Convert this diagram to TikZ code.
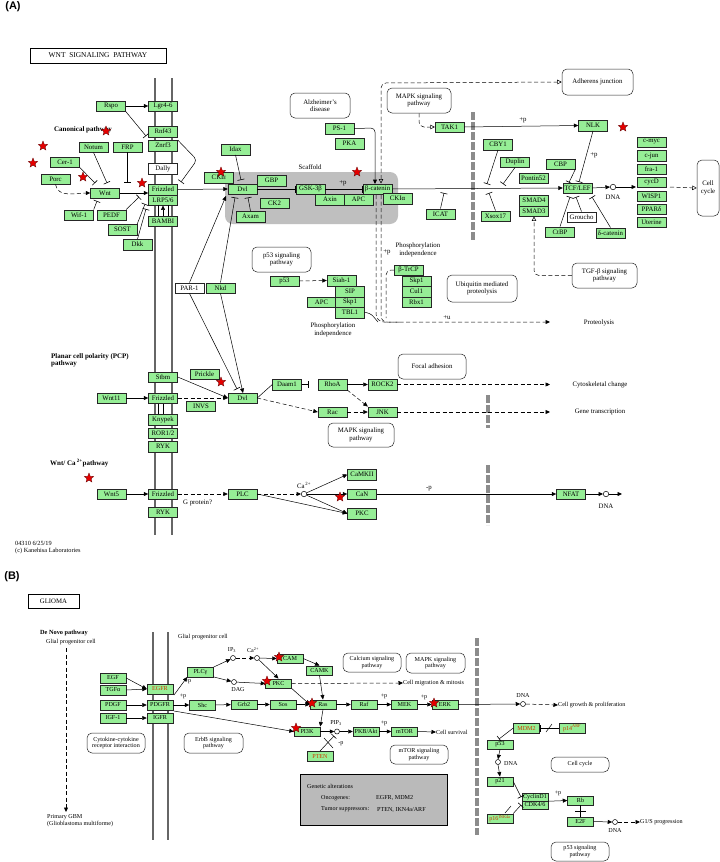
\documentclass[tikz,border=0pt]{standalone}
\usepackage{fontspec}
\setmainfont{Liberation Serif}
\newfontfamily\labsans{Liberation Sans}
\usetikzlibrary{arrows.meta,shapes.geometric}
\definecolor{kgreen}{RGB}{150,238,150}
\definecolor{kor}{RGB}{205,60,0}
\newcommand{\kf}{\fontsize{6.8}{7.5}\selectfont}
\newcommand{\kfs}{\fontsize{6.1}{6.8}\selectfont}
\newcommand{\kfb}{\fontsize{7}{7.8}\selectfont\bfseries}
\tikzset{
  gb/.style={draw=black!85, fill=kgreen, line width=0.45pt, minimum width=29pt, minimum height=10.5pt, inner sep=0pt, font=\kf},
  wb/.style={gb, fill=white},
  sb/.style={gb, minimum width=26pt, minimum height=9.5pt, font=\kfs},
  pw/.style={draw=black!85, fill=white, rounded corners=5pt, line width=0.5pt, align=center, font=\kf, inner sep=0pt},
  pws/.style={pw, font=\kfs},
  lab/.style={font=\kf, inner sep=0pt, align=center},
  labs/.style={font=\kfs, inner sep=0pt, align=center},
  blab/.style={font=\kfb, inner sep=0pt, align=left},
  con/.style={line width=0.5pt, draw=black},
  arr/.style={con, -{Triangle[length=4.5pt,width=4pt]}},
  inh/.style={con, -{Bar[width=7pt,line width=0.6pt]}},
  dsh/.style={dash pattern=on 4pt off 2.5pt},
  oarr/.style={con, -{Triangle[open,length=4.5pt,width=4.5pt]}},
  memb/.style={line width=2.3pt, draw=black!60},
  gbar/.style={line width=3.2pt, draw=black!45, dash pattern=on 8pt off 2pt},
  dnac/.style={circle, draw=black, fill=white, line width=0.5pt, minimum size=5.5pt, inner sep=0pt},
  kstar/.style={star, star points=5, star point ratio=2.3, fill=red!90!black, draw=red!40!black, line width=0.3pt, minimum size=10pt, inner sep=0pt},
}
\begin{document}
\begin{tikzpicture}[x=1pt,y=-1pt]
\fill[white] (0,0) rectangle (720,862);
\useasboundingbox (0,0) rectangle (720,862);

%================ (A) =================
\node[font=\labsans\bfseries\fontsize{11}{12}\selectfont, inner sep=0pt] (lA) at (13,7) {(A)};
\node[draw, line width=0.8pt, minimum width=136pt, minimum height=15pt, inner sep=0pt, font=\fontsize{7.4}{8}\selectfont] (ttl) at (98,55.5) {WNT\ \ SIGNALING\ \ PATHWAY};

\fill[black!25, rounded corners=8pt] (225,172) rectangle (398,224);
\node[lab] (scaf) at (310,167.5) {Scaffold};

\draw[memb] (155,78) -- (155,535);
\draw[memb] (172,78) -- (172,535);
\draw[gbar] (473,112) -- (473,240);
\draw[gbar] (488,395) -- (488,428);
\draw[gbar] (488,465) -- (488,525);

% labels
\node[blab] (canon) at (83,130) {Canonical pathway};
\node[blab, anchor=north west] (pcpl) at (51,353) {Planar cell polarity (PCP)\\pathway};
\node[blab, anchor=west] (cal) at (50,463) {Wnt/ Ca\,\textsuperscript{2+}pathway};
\node[font=\fontsize{6.3}{7.2}\selectfont, inner sep=0pt, anchor=north west, align=left] (foot) at (15,541) {04310 6/25/19\\(c) Kanehisa Laboratories};

% canonical nodes
\node[gb] (rspo) at (111,106) {Rspo};
\node[gb] (lgr) at (163,106) {Lgr4-6};
\node[gb] (rnf) at (163,131.5) {Rnf43};
\node[gb] (znrf) at (163,145.5) {Znrf3};
\node[gb] (notum) at (93.5,147) {Notum};
\node[gb] (frp) at (127.5,147) {FRP};
\node[gb] (cer) at (65,162) {Cer-1};
\node[wb] (dally) at (163,168.5) {Dally};
\node[gb] (porc) at (55.5,179) {Porc};
\node[gb] (wnt) at (105,193) {Wnt};
\node[gb] (fzd) at (163,189.5) {Frizzled};
\node[gb] (lrp) at (163,200) {LRP5/6};
\node[gb] (wif) at (79,215) {Wif-1};
\node[gb] (pedf) at (111.5,215) {PEDF};
\node[gb] (bambi) at (163,221) {BAMBI};
\node[gb] (sost) at (122.5,229.5) {SOST};
\node[gb] (dkk) at (137.5,244.5) {Dkk};
\node[gb] (ckie) at (219,177.5) {CKIε};
\node[gb] (idax) at (235.5,149.5) {Idax};
\node[gb] (dvl) at (242.5,189) {Dvl};
\node[gb] (gbp) at (271.5,180.5) {GBP};
\node[gb] (gsk) at (310.5,189) {GSK-3β};
\node[gb] (axin) at (330,199.5) {Axin};
\node[gb] (apc) at (358.5,199.5) {APC};
\node[gb] (bcat) at (377.5,189) {β-catenin};
\node[gb] (ckia) at (397.5,198.5) {CKIα};
\node[gb] (ck2) at (274.5,203) {CK2};
\node[gb] (axam) at (250.5,216.5) {Axam};
\node[gb] (ps1) at (339.5,128.5) {PS-1};
\node[gb] (pka) at (349.5,143.5) {PKA};
\node[pw, minimum width=60pt, minimum height=25pt] (alz) at (320,105.5) {Alzheimer's\\disease};
\node[pw, minimum width=64pt, minimum height=25pt] (mapk1) at (419,100.5) {MAPK signaling\\pathway};
\node[pw, minimum width=71pt, minimum height=26pt] (adh) at (597.5,82) {Adherens junction};
\node[gb] (tak1) at (449.5,127) {TAK1};
\node[gb] (nlk) at (593,125.5) {NLK};
\node[gb] (cby1) at (498,144.5) {CBY1};
\node[gb] (duplin) at (515,162) {Duplin};
\node[gb] (pontin) at (533.5,178) {Pontin52};
\node[gb] (cbp) at (560.5,164) {CBP};
\node[gb] (tcf) at (577.5,188) {TCF/LEF};
\node[gb] (icat) at (440.5,214) {ICAT};
\node[gb] (xsox) at (495.5,216) {Xsox17};
\node[gb] (smad4) at (534,200.5) {SMAD4};
\node[gb] (smad3) at (534,211) {SMAD3};
\node[gb] (ctbp) at (560,232) {CtBP};
\node[wb] (groucho) at (581.5,217) {Groucho};
\node[gb] (dcat) at (610.5,233) {δ-catenin};
\node[gb] (cmyc) at (651.5,142) {c-myc};
\node[gb] (cjun) at (651.5,155.5) {c-jun};
\node[gb] (fra1) at (651.5,169) {fra-1};
\node[gb] (cycd) at (651.5,182) {cycD};
\node[gb] (wisp) at (651.5,196) {WISP1};
\node[gb] (ppar) at (651.5,209) {PPARδ};
\node[gb] (uter) at (651.5,222) {Uterine};
\node[pw, minimum width=22pt, minimum height=56pt] (ccyc) at (708,188) {Cell\\cycle};
\node[dnac] (dna1) at (613,187) {};
\node[lab] (dna1l) at (613,197.5) {DNA};
\node[pw, minimum width=65pt, minimum height=25pt] (tgfb) at (604.5,275.5) {TGF-β signaling\\pathway};
\node[pw, minimum width=59pt, minimum height=25pt] (p53p) at (281.5,259.5) {p53 signaling\\pathway};
\node[gb] (p53) at (284.5,281) {p53};
\node[gb] (siah) at (341.5,280.5) {Siah-1};
\node[gb] (sip) at (350,291.5) {SIP};
\node[gb] (apc2) at (321.5,302) {APC};
\node[gb] (skp1) at (350,302) {Skp1};
\node[gb] (tbl1) at (350,312.5) {TBL1};
\node[gb] (btrcp) at (408.5,270) {β-TrCP};
\node[gb] (skp1b) at (416.5,281) {Skp1};
\node[gb] (cul1) at (416.5,291.5) {Cul1};
\node[gb] (rbx1) at (416.5,302) {Rbx1};
\node[pw, minimum width=70pt, minimum height=27pt] (ubq) at (482,288.5) {Ubiquitin mediated\\proteolysis};
\node[wb] (par1) at (189.5,288) {PAR-1};
\node[gb] (nkd) at (220.5,288) {Nkd};
\node[lab] (phi1) at (333,330) {Phosphorylation\\independence};
\node[lab] (phi2) at (418,250) {Phosphorylation\\independence};
\node[lab] (prot) at (599,323) {Proteolysis};
\node[lab] (pu) at (447,318) {+u};
\node[lab] (pp1) at (387,252) {+p};
\node[lab] (pp2) at (343,183) {+p};
\node[lab] (pp3) at (523,120) {+p};
\node[lab] (pp4) at (594,155) {+p};

% PCP nodes
\node[gb] (stbm) at (163,377) {Stbm};
\node[gb] (prickle) at (204.5,374) {Prickle};
\node[gb] (wnt11) at (111.5,398) {Wnt11};
\node[gb] (fzd2) at (163,398) {Frizzled};
\node[gb] (invs) at (201,406) {INVS};
\node[gb] (dvl2) at (242.5,398) {Dvl};
\node[gb] (daam) at (287,384.5) {Daam1};
\node[gb] (rhoa) at (332.5,384.5) {RhoA};
\node[gb] (rock) at (382.5,384.5) {ROCK2};
\node[gb] (rac) at (332.5,412) {Rac};
\node[gb] (jnk) at (382.5,412) {JNK};
\node[pw, minimum width=68pt, minimum height=25pt] (focal) at (432,366.5) {Focal adhesion};
\node[pw, minimum width=66pt, minimum height=24pt] (mapk2) at (361,435) {MAPK signaling\\pathway};
\node[gb] (knypek) at (163,419.5) {Knypek};
\node[gb] (ror) at (163,433) {ROR1/2};
\node[gb] (ryk) at (163,446.5) {RYK};
\node[lab] (cytl) at (600,385) {Cytoskeletal change};
\node[lab] (gtl) at (600,412) {Gene transcription};

% Ca nodes
\node[gb] (wnt5) at (111.5,494) {Wnt5};
\node[gb] (fzd3) at (163,494) {Frizzled};
\node[gb] (ryk2) at (163,512) {RYK};
\node[gb] (plc) at (242.5,494) {PLC};
\node[lab, anchor=west] (gprot) at (183,503) {G protein?};
\node[dnac] (ca) at (304,494) {};
\node[lab] (cal2) at (304,485) {Ca\textsuperscript{\,2+}};
\node[gb] (camkii) at (362,474.5) {CaMKII};
\node[gb] (can) at (362,494) {CaN};
\node[gb] (pkc) at (362,513.5) {PKC};
\node[gb] (nfat) at (571,494) {NFAT};
\node[dnac] (dna2) at (606,494) {};
\node[lab] (dna2l) at (606,506) {DNA};
\node[lab] (mp) at (429,489) {-p};

% canonical connectors
\draw[arr] (rspo) -- (lgr);
\draw[inh] (rspo.south east) -- (146,136);
\draw[inh, rounded corners=4pt] (znrf.north east) -- (197,160) -- (181,182);
\draw[inh] (notum.south) -- (107,183);
\draw[inh] (frp.south) -- (127.5,183);
\draw[inh] (cer.south east) -- (95,183);
\draw[arr, dsh] (porc.south) to[out=-80,in=180] (wnt.west);
\draw[arr] (wnt.east) -- (wnt.east -| fzd.west);
\draw[inh] (wif.north east) -- (97,201);
\draw[inh] (pedf.north east) -- (139,197);
\draw[inh] (sost.north east) -- (145,204);
\draw[inh] (dkk.north) -- (146,209);
\draw[arr] (bambi.north) -- (lrp.south);
\draw[con] (158,205) -- (158,216);
\draw[con] (168,205) -- (168,216);
\draw[arr] (fzd.east) -- (dvl.west);
\draw[inh] (idax.south) -- (241,180);
\draw[inh] (dvl.east) -- (gsk.west);
\draw[inh] (gsk.east) -- (bcat.west);
\draw[inh] (axam.north) -- (248,197.5);
\draw[arr] (par1.north) -- (226,196);
\draw[inh] (nkd.north) -- (235,197.5);
\draw[inh] (par1.south) -- (237,389);
\draw[arr] (nkd.south) -- (243,393);
\draw[arr, rounded corners=4pt] (ps1.east) -- (375,128) -- (375,184);
\draw[dsh, con, {Triangle[open,length=4.5pt,width=4.5pt]}-{Triangle[open,length=4.5pt,width=4.5pt]}, rounded corners=5pt] (381,183.5) -- (381,83) -- (adh.west);
\draw[oarr, dsh, rounded corners=5pt] (mapk1.south) |- (tak1.west);
\draw[arr] (tak1.east) -- (nlk.west);
\draw[arr] (bcat.east) -- (tcf.west);
\draw[inh] (icat.north) -- (444,193);
\draw[inh] (xsox.north) -- (489,193);
\draw[inh] (cby1.south) -- (487,184);
\draw[inh] (duplin.south) -- (503,184);
\draw[inh] (nlk.south) -- (579,182);
\draw[inh] (cbp.south east) -- (569,182.5);
\draw[inh] (ctbp.north) -- (570,197);
\draw[inh] (groucho.north) -- (576,197);
\draw[inh] (dcat.north) -- (592,197);
\draw[oarr, dsh, rounded corners=5pt] (tgfb.west) -| (smad3.south);
\draw[arr] (tcf.east) -- (dna1.west);
\draw[arr] (dna1.east) -- (636,187);
\draw[oarr, dsh] (670,187) -- (ccyc.west);
\draw[arr, dsh] (p53.east) -- (siah.west);
\draw[con, rounded corners=5pt] (tbl1.east) -- (370,312.5) -- (378,322);
\draw[con, dsh, rounded corners=8pt] (376,195) -- (376,322) -- (400,322);
\draw[arr, dsh, rounded corners=6pt] (381,195) -- (381,322) -- (550,322);
\draw[con, dsh, rounded corners=5pt] (btrcp.west) -- (386,270) -- (386,318);

% PCP connectors
\draw[arr] (wnt11) -- (fzd2);
\draw[arr] (stbm.east) -- (dvl2.west);
\draw[arr, dsh] (fzd2.east) -- (dvl2.west);
\draw[con] (158,403.5) -- (158,414);
\draw[con] (163,403.5) -- (163,414);
\draw[con] (dvl2.east) -- (daam.west);
\draw[arr, dsh] (dvl2.east) -- (rac.west);
\draw[inh] (daam.east) -- (309,384.5);
\draw[arr] (rhoa.east) -- (rock.west);
\draw[arr, dsh] (rhoa.south east) -- (jnk.north west);
\draw[arr, dsh] (rac.east) -- (jnk.west);
\draw[arr, dsh] (rock.east) -- (550,384.5);
\draw[arr, dsh] (jnk.east) -- (550,412);

% Ca connectors
\draw[arr] (wnt5) -- (fzd3);
\draw[arr, dsh] (fzd3) -- (plc);
\draw[arr, dsh] (plc.east) -- (ca.west);
\draw[arr] (plc.east) -- (pkc.west);
\draw[arr] (ca) -- (camkii.west);
\draw[arr] (ca) -- (can.west);
\draw[arr] (ca) -- (pkc.west);
\draw[arr] (can.east) -- (nfat.west);
\draw[arr] (nfat.east) -- (dna2.west);
\draw[arr] (dna2.east) -- (622,494);

% stars A
\node[kstar] (s1) at (106,131) {};
\node[kstar] (s2) at (43,146) {};
\node[kstar] (s3) at (33,163) {};
\node[kstar] (s4) at (83,177) {};
\node[kstar] (s5) at (142,183) {};
\node[kstar] (s6) at (221,172) {};
\node[kstar] (s7) at (357,172) {};
\node[kstar] (s8) at (623,127) {};
\node[kstar] (s9) at (221,382) {};
\node[kstar] (s10) at (89,478) {};
\node[kstar] (s11) at (340,497) {};

%================ (B) =================
\node[font=\labsans\bfseries\fontsize{11}{12}\selectfont, inner sep=0pt] (lB) at (12,577) {(B)};
\node[draw, line width=0.7pt, minimum width=51pt, minimum height=14pt, inner sep=0pt, font=\fontsize{6.8}{7.4}\selectfont] (glioma) at (53.5,601) {GLIOMA};
\node[font=\fontsize{6.3}{7}\selectfont\bfseries, inner sep=0pt, anchor=west] (dnov) at (40,633) {De Novo pathway};
\node[labs, anchor=west] (gpc1) at (46,642) {Glial progenitor cell};
\coordinate (dn1) at (66,648);
\coordinate (dn2) at (66,812);
\draw[arr, dsh] (dn1) -- (dn2);
\node[labs, anchor=north west, align=left] (gbm) at (47,814) {Primary GBM\\(Glioblastoma multiforme)};
\draw[memb] (153,632) -- (153,840);
\draw[memb] (168,632) -- (168,840);
\draw[gbar] (477,638) -- (477,835);
\node[labs, anchor=west] (gpc2) at (178,637) {Glial progenitor cell};

\node[sb] (egf) at (113,678) {EGF};
\node[sb] (tgfa) at (113,690) {TGFα};
\node[sb] (pdgf) at (113,705) {PDGF};
\node[sb] (igf1) at (113,718) {IGF-1};
\node[sb, text=kor] (egfr) at (160,689) {EGFR};
\node[sb] (pdgfr) at (160,705) {PDGFR};
\node[sb] (igfr) at (160,718) {IGFR};
\node[pws, minimum width=58pt, minimum height=20pt] (cyto) at (116,743) {Cytokine-cytokine\\receptor interaction};
\node[pws, minimum width=59pt, minimum height=20pt] (erbb) at (213.5,743) {ErbB signaling\\pathway};
\node[sb] (plcg) at (200.5,672) {PLCγ};
\node[sb] (shc) at (202.5,705) {Shc};
\node[labs] (bp1) at (188,681) {+p};
\node[labs] (bp2) at (183,696) {+p};
\node[dnac, minimum size=5pt] (ip3) at (233,658) {};
\node[labs] (ip3l) at (232,650.5) {IP\textsubscript{3}};
\node[dnac, minimum size=5pt] (dag) at (234,682) {};
\node[labs] (dagl) at (238,690) {DAG};
\node[dnac, minimum size=5pt] (ca2) at (257,658) {};
\node[labs] (ca2l) at (253,650) {Ca\textsuperscript{2+}};
\node[sb] (cam) at (290,658.5) {CAM};
\node[sb] (camk) at (319.5,670.5) {CAMK};
\node[sb] (pkc2) at (278.5,683.5) {PKC};
\node[sb] (grb2) at (244,704.5) {Grb2};
\node[sb] (sos) at (283,704.5) {Sos};
\node[sb] (ras) at (323,704.5) {Ras};
\node[sb] (raf) at (364,704.5) {Raf};
\node[sb] (mek) at (404.5,704.5) {MEK};
\node[sb] (erk) at (445,704.5) {ERK};
\node[labs] (bp3) at (384,696.5) {+p};
\node[labs] (bp4) at (424,697) {+p};
\node[sb] (pi3k) at (307,731.5) {PI3K};
\node[dnac, minimum size=5pt] (pip3) at (337,731.5) {};
\node[labs] (pip3l) at (336,723.5) {PIP\textsubscript{3}};
\node[sb] (pkb) at (366,731.5) {PKB/Akt};
\node[sb] (mtor) at (404.5,731.5) {mTOR};
\node[labs] (bp5) at (384,723.5) {+p};
\node[sb, text=kor] (pten) at (320,756) {PTEN};
\node[labs] (mp2) at (341,743.5) {-p};
\node[pws, minimum width=58pt, minimum height=19pt] (calc) at (372,662.5) {Calcium signaling\\pathway};
\node[pws, minimum width=59pt, minimum height=20pt] (mapk3) at (435.5,663) {MAPK signaling\\pathway};
\node[pws, minimum width=58pt, minimum height=19pt] (mtorp) at (419,754.5) {mTOR signaling\\pathway};
\node[labs, anchor=west] (cmm) at (403,683) {Cell migration \& mitosis};
\node[labs, anchor=west] (csv) at (436,732) {Cell survival};
\node[draw, line width=1pt, fill=black!27, minimum width=147pt, minimum height=51pt, inner sep=0pt] (gen) at (373.5,799.5) {};
\node[labs, anchor=west] (gt1) at (307,786) {Genetic alterations};
\node[labs, anchor=west] (gt2) at (321,798) {Oncogenes:};
\node[labs, anchor=west] (gt3) at (376,798) {EGFR, MDM2};
\node[labs, anchor=west] (gt4) at (321,809.5) {Tumor suppressors:};
\node[labs, anchor=west] (gt5) at (377,809.5) {PTEN, IKN4a/ARF};

\node[dnac, minimum size=5pt] (dna3) at (523,704) {};
\node[labs] (dna3l) at (523,695) {DNA};
\node[labs, anchor=west] (cgp) at (558,705) {Cell growth \& proliferation};
\node[sb, text=kor] (mdm2) at (526.5,728) {MDM2};
\node[sb, text=kor] (p14) at (572,728) {p14\textsuperscript{ARF}};
\node[sb] (p53b) at (500,744.5) {p53};
\node[dnac, minimum size=5pt] (dna4) at (498,762) {};
\node[labs, anchor=west] (dna4l) at (504,763) {DNA};
\node[sb] (p21) at (500,781.5) {p21};
\node[pws, minimum width=58pt, minimum height=15pt] (ccyc2) at (580,764.5) {Cell cycle};
\node[sb, minimum height=8pt] (cycd1) at (535,797) {CyclinD1};
\node[sb, minimum height=8pt] (cdk46) at (535,805) {CDK4/6};
\node[sb, text=kor] (p16) at (500,818.5) {p16\textsuperscript{INK4a}};
\node[labs] (bp6) at (558,793) {+p};
\node[sb] (rb) at (580.5,800.5) {Rb};
\node[sb] (e2f) at (580.5,821.5) {E2F};
\node[dnac, minimum size=5pt] (dna5) at (615,822) {};
\node[labs] (dna5l) at (615,830.5) {DNA};
\node[labs, anchor=west] (g1s) at (640,822) {G1/S progression};
\node[pws, minimum width=58pt, minimum height=19pt] (p53p2) at (580,851.5) {p53 signaling\\pathway};

% B connectors
\draw[arr] (egf.east) -- (egfr.west);
\draw[arr] (tgfa.east) -- (egfr.west);
\draw[arr] (pdgf) -- (pdgfr);
\draw[arr] (igf1) -- (igfr);
\draw[arr] (174,695) -- (plcg.south west);
\draw[arr] (pdgfr.east) -- (shc.west);
\draw[arr] (174,711) -- (pi3k.west);
\draw[arr] (plcg.north east) -- (ip3);
\draw[arr] (plcg.south east) -- (dag);
\draw[arr, dsh] (ip3) -- (ca2);
\draw[arr] (ca2) -- (cam.west);
\draw[arr] (ca2) -- (pkc2.north);
\draw[arr] (dag) -- (pkc2.west);
\draw[arr] (cam.east) -- (camk.north);
\draw[arr] (camk.south) -- (ras.north);
\draw[arr] (pkc2.south east) -- (ras.west);
\draw[arr, dsh] (pkc2.east) -- (cmm.west);
\draw[arr] (shc) -- (grb2);
\draw[arr] (grb2) -- (sos);
\draw[arr] (sos) -- (ras);
\draw[arr] (ras) -- (raf);
\draw[arr] (raf) -- (mek);
\draw[arr] (mek) -- (erk);
\draw[arr] (erk.east) -- (dna3.west);
\draw[arr, dsh] (dna3.east) -- (cgp.west);
\draw[arr] (ras.south) -- (pi3k.north east);
\draw[arr] (pi3k) -- (pip3);
\draw[arr] (pip3) -- (pkb);
\draw[arr] (pkb) -- (mtor);
\draw[arr] (mtor.east) -- (csv.west);
\draw[inh] (pten.north) -- (334,736);
\draw[con] (324,738) -- (333,748);
\draw[inh] (p14.west) -- (mdm2.east);
\draw[con] (546,732) -- (552,724);
\draw[inh] (mdm2.west) -- (499,739);
\draw[arr] (p53b.south) -- (dna4.north);
\draw[arr] (dna4.south) -- (p21.north);
\draw[inh] (p21.east) -- (521,797);
\draw[inh] (p16.north east) -- (521,805);
\draw[con] (505,813) -- (511,806);
\draw[arr] (cycd1.south east) -- (rb.west);
\draw[con] (rb.south) -- (e2f.north);
\draw[con] (575,811) -- (586,811);
\draw[arr] (e2f.east) -- (dna5.west);
\draw[arr, dsh] (dna5.east) -- (g1s.west);

% stars B
\node[kstar] (s12) at (279,657) {};
\node[kstar] (s13) at (267,681) {};
\node[kstar] (s14) at (312,703) {};
\node[kstar] (s15) at (434,703) {};
\node[kstar] (s16) at (296,728) {};
\end{tikzpicture}
\end{document}
